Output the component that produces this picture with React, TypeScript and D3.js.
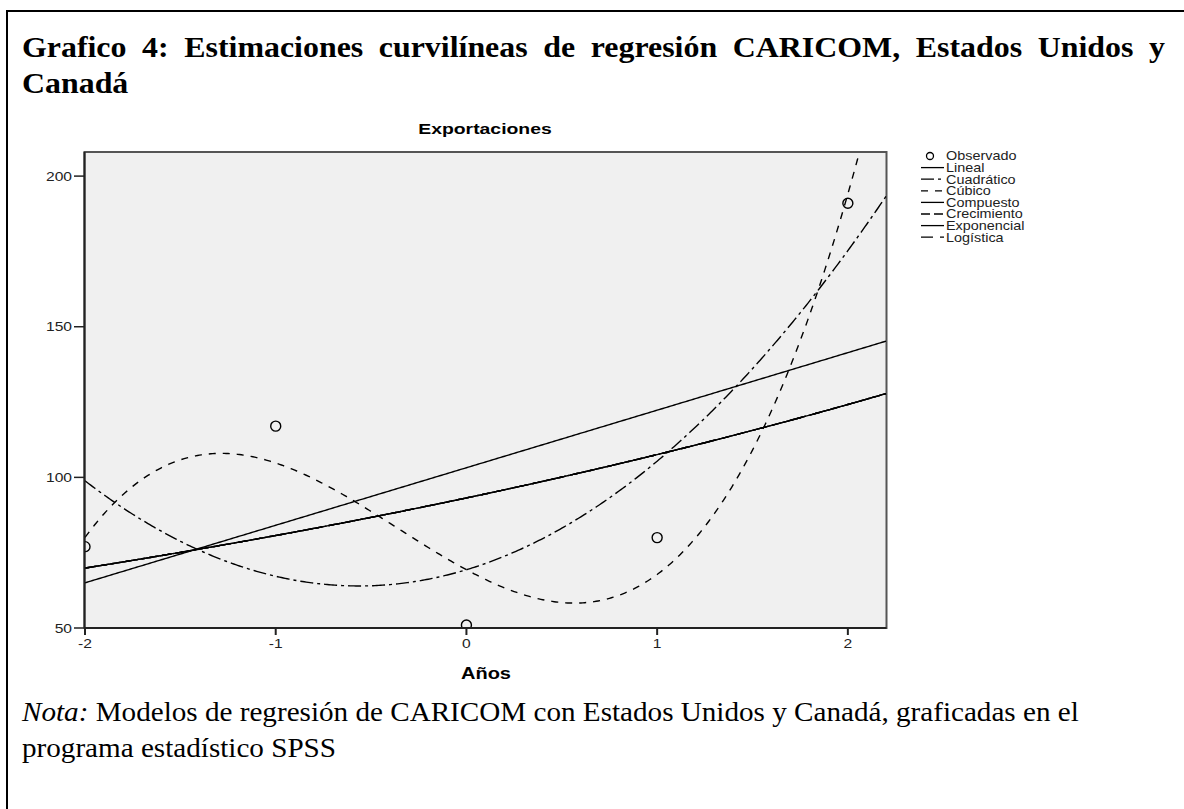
import React, { useRef, useEffect } from 'react';
import * as d3 from 'd3';

const years = [-2, -1, 0, 1, 2];
const exportaciones = [77, 117, 51, 80, 191];

const xTicks = [-2, -1, 0, 1, 2];
const yTicks = [50, 100, 150, 200];

const modelNames = ['Lineal', 'Cuadrático', 'Cúbico', 'Compuesto', 'Crecimiento', 'Exponencial', 'Logística'];
const modelDashes = ['', '13,4,3,4', '7,7', '24,3,1,3', '9,4', '', '12,7'];

const titleLines = [
  'Grafico 4: Estimaciones curvilíneas de regresión CARICOM, Estados Unidos y',
  'Canadá',
];
const notaLines = [
  'Modelos de regresión de CARICOM con Estados Unidos y Canadá, graficadas en el',
  'programa estadístico SPSS',
];

// least squares polynomial fit (normal equations + gaussian elimination)
function polyFit(xs: number[], ys: number[], deg: number) {
  const m = deg + 1;
  const A: number[][] = [];
  for (let i = 0; i < m; i++) {
    const row: number[] = [];
    for (let j = 0; j < m; j++) row.push(d3.sum(xs, x => Math.pow(x, i + j)));
    row.push(d3.sum(xs, (x, k) => Math.pow(x, i) * ys[k]));
    A.push(row);
  }
  for (let c = 0; c < m; c++) {
    let p = c;
    for (let r = c + 1; r < m; r++) if (Math.abs(A[r][c]) > Math.abs(A[p][c])) p = r;
    [A[c], A[p]] = [A[p], A[c]];
    for (let r = 0; r < m; r++) {
      if (r === c) continue;
      const f = A[r][c] / A[c][c];
      for (let k = c; k <= m; k++) A[r][k] -= f * A[c][k];
    }
  }
  const coef = A.map((row, i) => row[m] / row[i]);
  return (x: number) => d3.sum(coef, (c, i) => c * Math.pow(x, i));
}

// compound / growth / exponential / logistic all reduce to a log-linear fit here
function expFit(xs: number[], ys: number[]) {
  const lin = polyFit(xs, ys.map(Math.log), 1);
  return (x: number) => Math.exp(lin(x));
}

const models = [
  polyFit(years, exportaciones, 1),
  polyFit(years, exportaciones, 2),
  polyFit(years, exportaciones, 3),
  expFit(years, exportaciones),
  expFit(years, exportaciones),
  expFit(years, exportaciones),
  expFit(years, exportaciones),
];

const SX = 1.25; // SPSS text in the source is stretched horizontally
const DOC_SX = 1.1; // the document text too, a little
const sans = '"Liberation Sans", Arial, sans-serif';
const serif = '"Liberation Serif", "Times New Roman", serif';

export default function App() {
  const titleRef = useRef<SVGTextElement>(null);

  const left = 84.5, right = 886.5, top = 152, bottom = 628;
  const x = d3.scaleLinear().domain([-2, 2.2]).range([85, 886]);
  const y = d3.scaleLinear().domain([50, 208]).range([628, 152]);

  const samples = d3.range(-2, 2.2001, 0.01);
  const line = (f: (v: number) => number) =>
    d3.line<number>().x(v => x(v)).y(v => y(f(v)))(samples) || '';

  // justify the first title line (22 .. 1165)
  useEffect(() => {
    const t = titleRef.current;
    if (!t) return;
    t.setAttribute('word-spacing', '0');
    const w = t.getComputedTextLength();
    const gaps = titleLines[0].split(' ').length - 1;
    t.setAttribute('word-spacing', String((1143 / DOC_SX - w) / gaps));
  }, []);

  const legX = 921, legY = 156, legStep = 11.6;

  return (
    <svg width={1184} height={809} style={{ position: 'absolute', left: 0, top: 0, background: '#fff' }}>
      <defs>
        <clipPath id="plotClip">
          <rect x={left} y={top} width={right - left} height={bottom - top} />
        </clipPath>
      </defs>

      {/* page frame */}
      <line x1={7} y1={11} x2={1184} y2={11} stroke="#000" strokeWidth={2} />
      <line x1={7} y1={10} x2={7} y2={809} stroke="#000" strokeWidth={2} />

      {/* heading */}
      <text ref={titleRef} transform={`translate(22,57) scale(${DOC_SX},1)`} fontFamily={serif} fontWeight="bold" fontSize={29}>{titleLines[0]}</text>
      <text transform={`translate(22,93) scale(${DOC_SX},1)`} fontFamily={serif} fontWeight="bold" fontSize={29}>{titleLines[1]}</text>

      {/* chart title */}
      <text transform={`translate(485,134) scale(${SX},1)`} textAnchor="middle" fontFamily={sans} fontWeight="bold" fontSize={15.5}>Exportaciones</text>

      {/* plot background */}
      <rect x={left} y={top} width={right - left} height={bottom - top} fill="#f0f0f0" stroke="#555" strokeWidth={2} />

      <g clipPath="url(#plotClip)">
        {models.map((f, i) => (
          <path key={i} d={line(f)} fill="none" stroke="#000" strokeWidth={1.4}
            strokeDasharray={modelDashes[i] || undefined} />
        ))}
        {years.map((yr, i) => (
          <circle key={i} cx={x(yr)} cy={y(exportaciones[i])} r={5} fill="none" stroke="#000" strokeWidth={1.4} />
        ))}
      </g>

      {/* axes */}
      <line x1={left} y1={top} x2={left} y2={bottom} stroke="#222" strokeWidth={2} />
      <line x1={left} y1={bottom} x2={right} y2={bottom} stroke="#222" strokeWidth={2} />
      {yTicks.map(t => (
        <g key={t}>
          <line x1={74} x2={left} y1={y(t)} y2={y(t)} stroke="#222" strokeWidth={1.5} />
          <text transform={`translate(72,${y(t) + 4.5}) scale(${SX},1)`} textAnchor="end" fontFamily={sans} fontSize={12.5} fill="#222">{t}</text>
        </g>
      ))}
      {xTicks.map(t => (
        <g key={t}>
          <line x1={x(t)} x2={x(t)} y1={bottom} y2={bottom + 7} stroke="#222" strokeWidth={2} />
          <text transform={`translate(${x(t)},648) scale(${SX},1)`} textAnchor="middle" fontFamily={sans} fontSize={12.5} fill="#222">{d3.format('d')(t).replace('−', '-')}</text>
        </g>
      ))}
      <text transform={`translate(486,679) scale(${SX},1)`} textAnchor="middle" fontFamily={sans} fontWeight="bold" fontSize={16}>Años</text>

      {/* legend */}
      <g fontFamily={sans} fontSize={12} fill="#222">
        <circle cx={930} cy={legY} r={3.5} fill="none" stroke="#000" strokeWidth={1.3} />
        <text transform={`translate(946,${legY + 4.3}) scale(1.2,1)`}>Observado</text>
        {modelNames.map((name, i) => {
          const ly = legY + legStep * (i + 1);
          return (
            <g key={name}>
              <line x1={legX} x2={944} y1={ly} y2={ly} stroke="#000" strokeWidth={1.3}
                strokeDasharray={modelDashes[i] || undefined} />
              <text transform={`translate(946,${ly + 4.3}) scale(1.2,1)`}>{name}</text>
            </g>
          );
        })}
      </g>

      {/* note */}
      <text transform={`translate(22,721) scale(${DOC_SX},1)`} fontFamily={serif} fontSize={26.5}>
        <tspan fontStyle="italic">Nota:</tspan> {notaLines[0]}
      </text>
      <text transform={`translate(22,757) scale(${DOC_SX},1)`} fontFamily={serif} fontSize={26.5}>{notaLines[1]}</text>
    </svg>
  );
}
